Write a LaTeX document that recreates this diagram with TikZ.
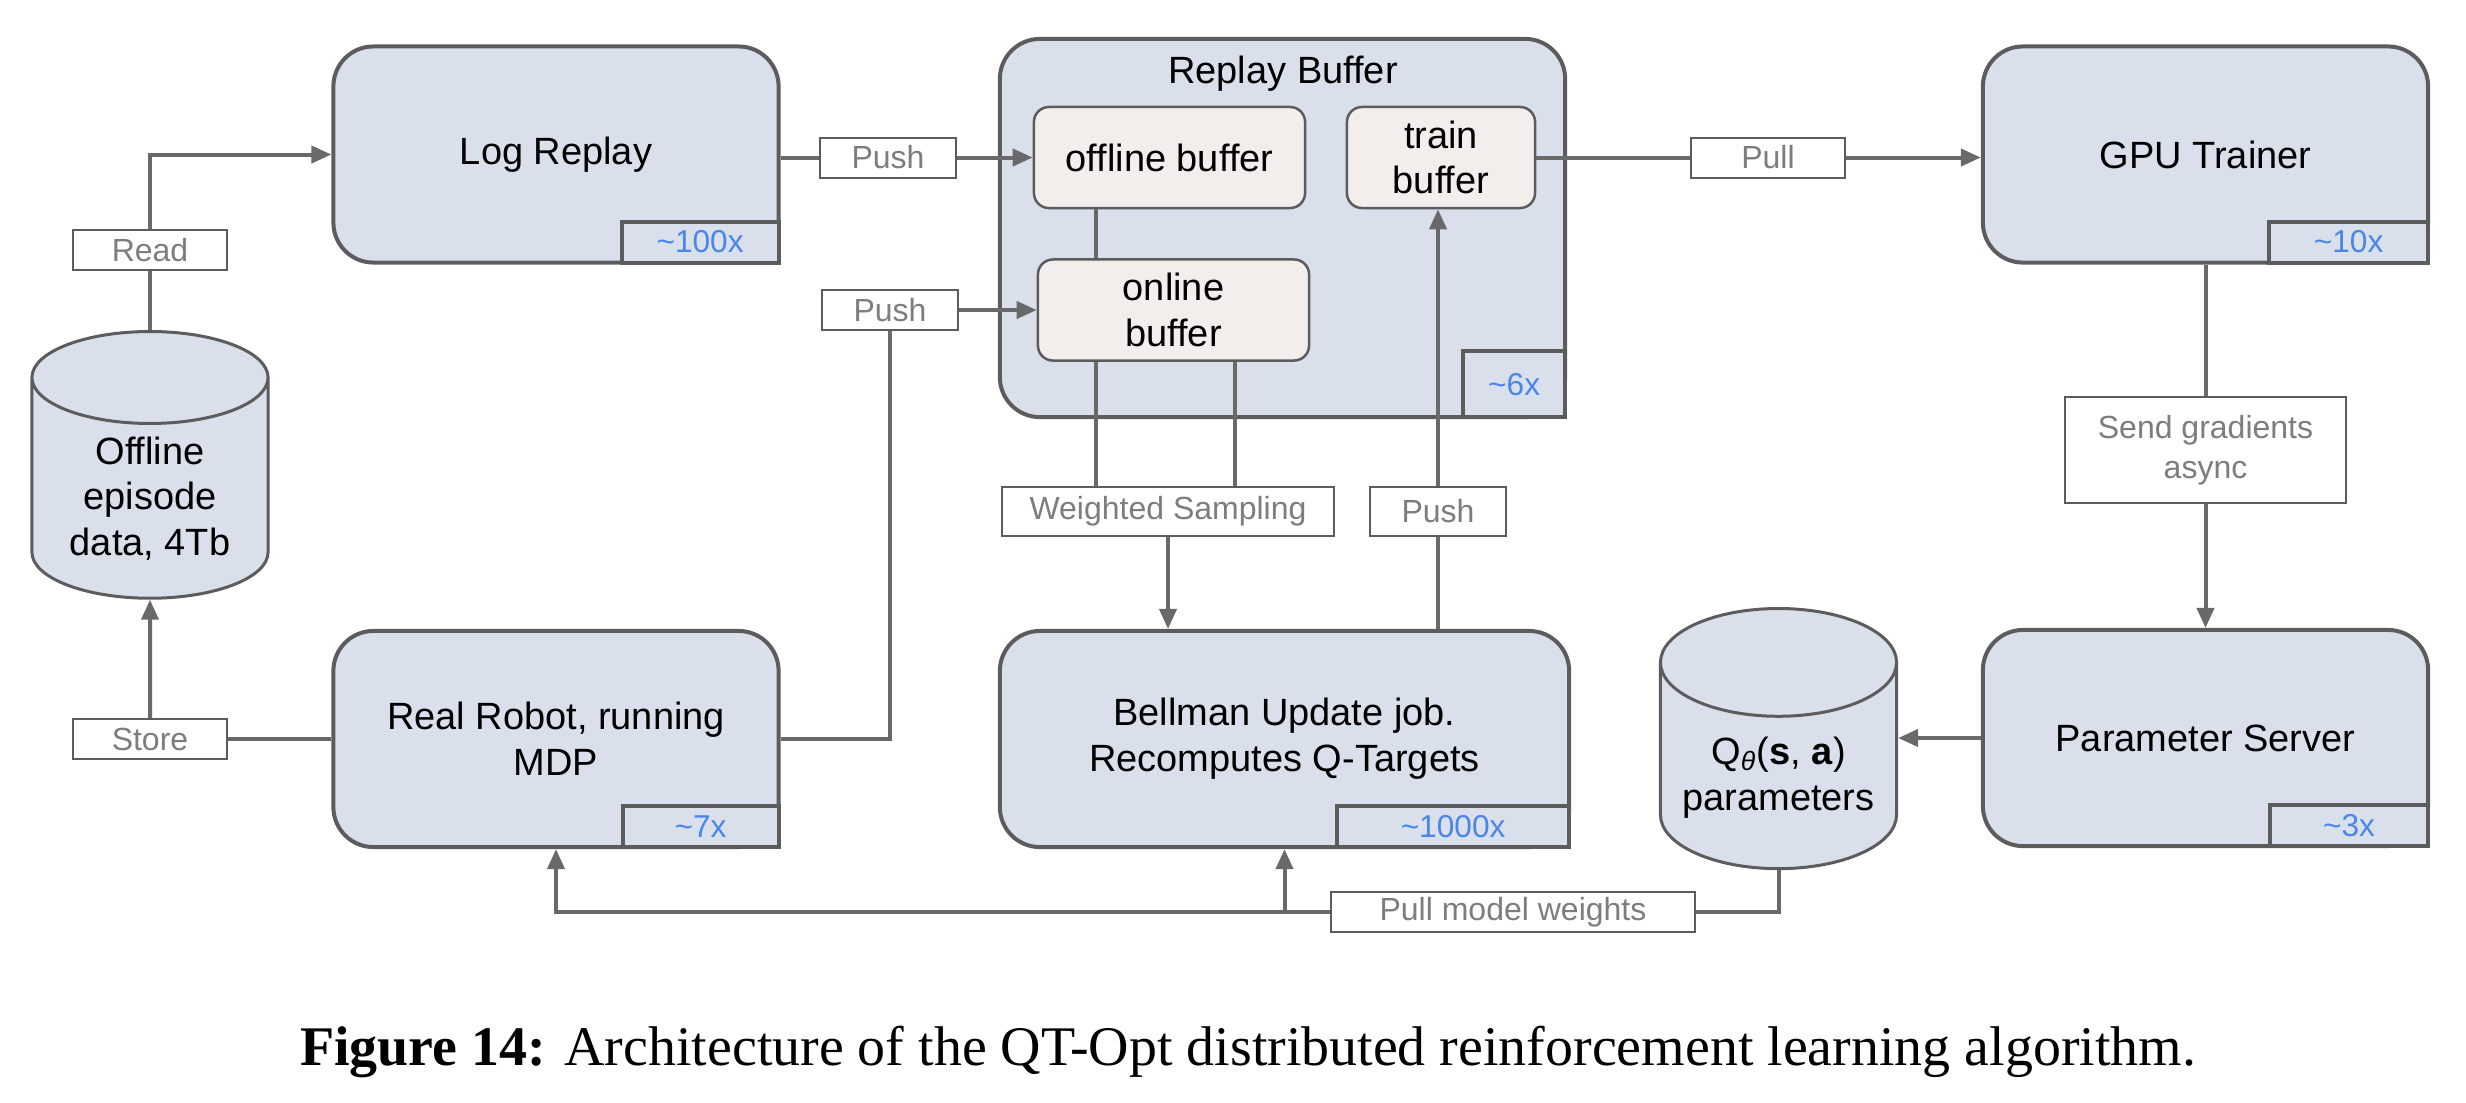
\documentclass[tikz,border=0pt]{standalone}
\usepackage{fontspec}
\setmainfont{Liberation Sans}
\newfontfamily\capfont{Liberation Serif}
\usetikzlibrary{arrows.meta}
\usetikzlibrary{shapes.geometric}
\definecolor{boxfill}{RGB}{217,224,236}
\definecolor{buffill}{RGB}{243,238,235}
\definecolor{wire}{RGB}{105,105,105}
\definecolor{rim}{RGB}{92,92,92}
\definecolor{lbltext}{RGB}{125,125,125}
\definecolor{tabtext}{RGB}{74,134,232}
\tikzset{box/.style={draw=rim,fill=boxfill,line width=0.04cm,rounded corners=0.4cm,minimum width=4.45cm,minimum height=2.16cm,align=center,font=\fontsize{10.8}{13}\selectfont}}
\tikzset{buf/.style={draw=rim,fill=buffill,line width=0.025cm,rounded corners=0.15cm,minimum height=1.01cm,align=center,font=\fontsize{10.8}{13}\selectfont}}
\tikzset{tab/.style={draw=rim,fill=boxfill,line width=0.04cm,anchor=south east,minimum height=0.41cm,inner sep=0pt,text=tabtext,font=\fontsize{9}{9}\selectfont}}
\tikzset{lbl/.style={draw=rim,fill=white,line width=0.02cm,minimum height=0.4cm,inner sep=0pt,align=center,text=lbltext,font=\fontsize{9.1}{11.5}\selectfont}}
\tikzset{db/.style={cylinder,shape border rotate=90,aspect=0.5,draw=rim,fill=boxfill,line width=0.03cm,minimum width=2.36cm,anchor=north,align=center,font=\fontsize{10.8}{13}\selectfont}}
\tikzset{ln/.style={draw=wire,line width=0.04cm}}
\tikzset{arr/.style={ln,-{Triangle[length=0.2cm,width=0.17cm]}}}

\begin{document}
\begin{tikzpicture}[x=0.01cm,y=-0.01cm]
  \useasboundingbox (0,0) rectangle (2466,1102);
  % top row
  \node[box] (logrep) at (556,154.5) {Log Replay};
  \node[box,minimum width=5.65cm,minimum height=3.78cm] (rbuf) at (1282.5,228) {};
  \node[font=\fontsize{10.8}{13}\selectfont] (rbname) at (1283,74) {Replay Buffer};
  \node[box] (gpu) at (2205.5,154.5) {GPU Trainer};
  \node[buf,minimum width=2.71cm] (offbuf) at (1169.5,157.5) {offline buffer};
  \node[buf,minimum width=1.88cm] (trbuf) at (1441,157.5) {train\\buffer};
  \node[buf,minimum width=2.71cm] (onbuf) at (1173.5,310) {online\\buffer};
  \node[tab,minimum width=1.57cm] (lrtab) at (logrep.south east) {\textasciitilde100x};
  \node[tab,minimum width=1.02cm,minimum height=0.66cm] (rbtab) at (rbuf.south east) {\textasciitilde6x};
  \node[tab,minimum width=1.59cm] (gputab) at (gpu.south east) {\textasciitilde10x};
  % bottom row
  \node[box] (robot) at (556,739) {Real Robot, running\\MDP};
  \node[box,minimum width=5.69cm] (bell) at (1284.5,739) {Bellman Update job.\\Recomputes Q-Targets};
  \node[box] (param) at (2205.5,738) {Parameter Server};
  \node[tab,minimum width=1.56cm] (robtab) at (robot.south east) {\textasciitilde7x};
  \node[tab,minimum width=2.32cm] (belltab) at (bell.south east) {\textasciitilde1000x};
  \node[tab,minimum width=1.58cm] (partab) at (param.south east) {\textasciitilde3x};
  % stores
  \node[db,minimum height=2.49cm] (offl) at (150,330) {Offline\\episode\\data, 4Tb};
  \node[db,minimum height=2.6cm] (qpar) at (1778.5,607) {Q\textsubscript{\textit{θ}}(\textbf{s}, \textbf{a})\\parameters};
  % labels on the wires
  \node[lbl,minimum width=1.53cm] (read) at (150,250) {Read};
  \node[lbl,minimum width=1.53cm] (store) at (150,739) {Store};
  \node[lbl,minimum width=1.36cm] (push1) at (888,157.5) {Push};
  \node[lbl,minimum width=1.36cm] (push2) at (890,310) {Push};
  \node[lbl,minimum width=1.53cm] (pull) at (1768,157.5) {Pull};
  \node[lbl,minimum width=3.31cm,minimum height=0.49cm] (wsamp) at (1168,511) {Weighted Sampling};
  \node[lbl,minimum width=1.35cm,minimum height=0.49cm] (push3) at (1438,511) {Push};
  \node[lbl,minimum width=2.81cm,minimum height=1.05cm] (sendg) at (2205.5,450) {Send gradients\\async};
  \node[lbl,minimum width=3.63cm] (pmw) at (1513,912) {Pull model weights};
  \coordinate (tapa) at (1096,0);
  \coordinate (tapb) at (1235,0);
  % wires
  \draw[ln] (offl.north) -- (read);
  \draw[arr] (read) |- (logrep);
  \draw[ln] (robot) -- (store);
  \draw[arr] (store) -- (offl.south);
  \draw[ln] (logrep.east |- push1) -- (push1);
  \draw[arr] (push1) -- (offbuf);
  \draw[ln] (robot) -| (push2);
  \draw[arr] (push2) -- (onbuf);
  \draw[ln] (trbuf) -- (pull);
  \draw[arr] (pull) -- (gpu.west |- pull);
  \draw[ln] (offbuf.south -| tapa) -- (onbuf.north -| tapa);
  \draw[ln] (onbuf.south -| tapa) -- (wsamp.north -| tapa);
  \draw[ln] (onbuf.south -| tapb) -- (wsamp.north -| tapb);
  \draw[arr] (wsamp) -- (wsamp |- bell.north);
  \draw[ln] (bell.north -| push3) -- (push3);
  \draw[arr] (push3) -- (trbuf.south -| push3);
  \draw[ln] (gpu) -- (sendg);
  \draw[arr] (sendg) -- (param);
  \draw[arr] (param.west) -- (param.west -| qpar.east);
  \draw[ln] (qpar.south) |- (pmw);
  \draw[arr] (pmw) -| (robot);
  \draw[arr] (bell.south |- pmw) -- (bell.south);
  % caption
  \node[font=\capfont\fontsize{15.9}{18}\selectfont,anchor=base] (cap) at (1248,1065) {\textbf{Figure 14:} Architecture of the QT-Opt distributed reinforcement learning algorithm.};
\end{tikzpicture}
\end{document}
